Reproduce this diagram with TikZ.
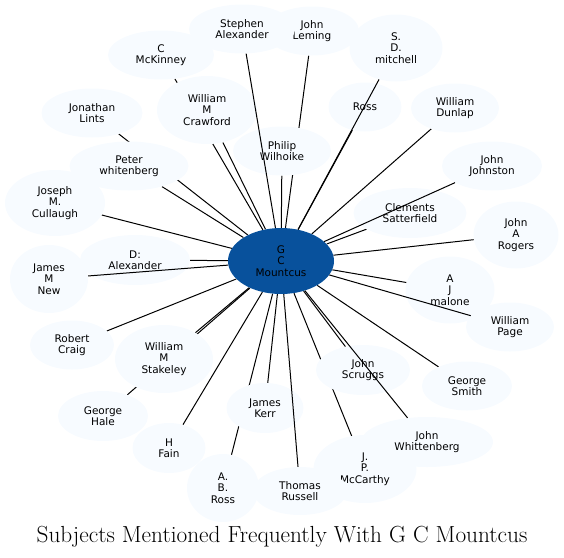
\documentclass[tikz,border=0pt]{standalone}
\usepackage{fontspec}
\newfontfamily\dvsans{DejaVu Sans}
\usetikzlibrary{shapes.geometric}
\definecolor{MCHub}{HTML}{08519C}
\definecolor{MCLeaf}{HTML}{F7FBFF}
\definecolor{MCInk}{HTML}{000000}
\pgfdeclarelayer{background}
\pgfsetlayers{background,main}
\tikzset{
  subj/.style={ellipse,fill=MCLeaf,draw=none,inner sep=0pt,align=center,
               text=MCInk,font=\dvsans\fontsize{10.5}{11.3}\selectfont},
  hub/.style={subj,fill=MCHub},
  link/.style={MCInk,line width=1pt},
  titlelabel/.style={text=MCInk,font=\fontsize{23.3}{27}\selectfont},
}
\begin{document}
\begin{tikzpicture}[x=1pt,y=-1pt]
  \useasboundingbox (0,0) rectangle (564,557);
  % hub
  \node[hub,minimum width=106,minimum height=66] (mountcus) at (281,261) {G\\C\\Mountcus};

  % top
  \node[subj,minimum width=94,minimum height=49] (jleming) at (312,31) {John\\Leming};
  \node[subj,minimum width=106,minimum height=49] (salexander) at (242,29) {Stephen\\Alexander};
  \node[subj,minimum width=93,minimum height=67] (smitchell) at (396,48) {S.\\D.\\mitchell};
  \node[subj,minimum width=106,minimum height=49] (cmckinney) at (161,55) {C\\McKinney};
  \node[subj,minimum width=100,minimum height=68] (wcrawford) at (207,110) {William\\M\\Crawford};
  \node[subj,minimum width=101,minimum height=49] (jlints) at (92,113) {Jonathan\\Lints};
  \node[subj,minimum width=73,minimum height=49] (ross) at (365,107) {Ross};
  \node[subj,minimum width=88,minimum height=49] (wdunlap) at (455,108) {William\\Dunlap};
  \node[subj,minimum width=98,minimum height=49] (pwilhoike) at (282,151) {Philip\\Wilhoike};
  \node[subj,minimum width=119,minimum height=49] (pwhitenberg) at (129,166) {Peter\\whitenberg};
  \node[subj,minimum width=100,minimum height=49] (jjohnston) at (492,166) {John\\Johnston};

  % middle
  \node[subj,minimum width=100,minimum height=66] (jcullaugh) at (55,203) {Joseph\\M.\\Cullaugh};
  \node[subj,minimum width=113,minimum height=50] (csatterfield) at (410,213) {Clements\\Satterfield};
  \node[subj,minimum width=85,minimum height=67] (jrogers) at (516,235) {John\\A\\Rogers};
  \node[subj,minimum width=110,minimum height=50] (dalexander) at (135,260) {D:\\Alexander};
  \node[subj,minimum width=78,minimum height=68] (jnew) at (49,279) {James\\M\\New};
  \node[subj,minimum width=89,minimum height=67] (amalone) at (450,290) {A\\J\\malone};
  \node[subj,minimum width=88,minimum height=49] (wpage) at (510,327) {William\\Page};
  \node[subj,minimum width=84,minimum height=49] (rcraig) at (72,345) {Robert\\Craig};
  \node[subj,minimum width=98,minimum height=68] (wstakeley) at (164,359) {William\\M\\Stakeley};

  % bottom
  \node[subj,minimum width=94,minimum height=50] (jscruggs) at (363,370) {John\\Scruggs};
  \node[subj,minimum width=90,minimum height=49] (gsmith) at (467,386) {George\\Smith};
  \node[subj,minimum width=90,minimum height=50] (ghale) at (103,416) {George\\Hale};
  \node[subj,minimum width=77,minimum height=50] (jkerr) at (265,408) {James\\Kerr};
  \node[subj,minimum width=73,minimum height=50] (hfain) at (169,448) {H\\Fain};
  \node[subj,minimum width=103,minimum height=68] (jmccarthy) at (365,469) {J.\\P.\\McCarthy};
  \node[subj,minimum width=132,minimum height=50] (jwhittenberg) at (427,442) {John\\Whittenberg};
  \node[subj,minimum width=72,minimum height=68] (abross) at (223,488) {A.\\B.\\Ross};
  \node[subj,minimum width=94,minimum height=48] (trussell) at (300,491) {Thomas\\Russell};

  % links hidden behind the ellipses
  \begin{pgfonlayer}{background}
    \foreach \n in {jleming,cmckinney,wcrawford,jlints,ross,wdunlap,pwilhoike,
                    pwhitenberg,jcullaugh,csatterfield,jrogers,dalexander,amalone,
                    rcraig,wstakeley,jscruggs,gsmith,ghale,jkerr,hfain,jmccarthy,
                    abross}{
      \draw[link] (mountcus) -- (\n);
    }
  \end{pgfonlayer}

  % links drawn over the ellipses
  \foreach \n in {salexander,smitchell,jjohnston,jnew,wpage,jwhittenberg,trussell}{
    \draw[link] (mountcus) -- (\n);
  }

  \node[titlelabel,anchor=base] (title) at (282,542)
    {Subjects Mentioned Frequently With G C Mountcus};
\end{tikzpicture}
\end{document}
